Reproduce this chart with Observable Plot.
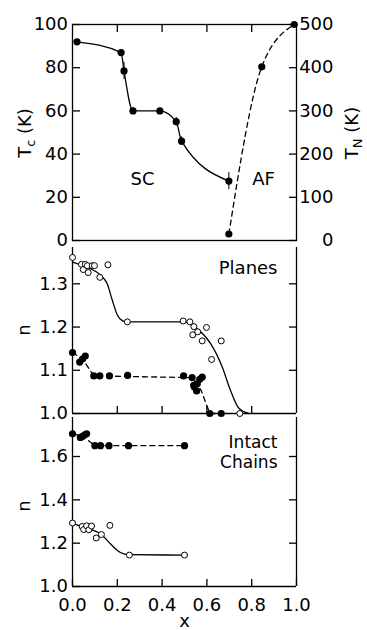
<!DOCTYPE html>
<html><head><meta charset="utf-8">
<script src="https://cdn.jsdelivr.net/npm/d3@7"></script>
<script src="https://cdn.jsdelivr.net/npm/@observablehq/plot@0.6"></script>
<style>
body{margin:0;background:#fff}
#chart{position:relative;width:367px;height:630px;overflow:hidden;background:#fff}
#chart svg{position:absolute;left:0}
</style>
</head><body><div id="chart"></div>
<script>
// ---------- data: top panel (Tc, left axis; TN, right axis) ----------
const tcX   = [0.02, 0.217, 0.23, 0.27, 0.39, 0.463, 0.487, 0.698];
const tcVal = [92, 87, 78.5, 60, 60, 55, 46, 27.5];
const tcErr = [0, 0, 4, 1.5, 0, 2, 2, 4];
const tnX   = [0.698, 0.845, 0.99];
const tnVal = [15, 402, 500];
const tcTicks = [0, 20, 40, 60, 80, 100];
const tnTickFactor = 5; // right axis: 0..500 K

// ---------- data: middle panel "Planes" ----------
const planesOpenX = [0, 0.040, 0.048, 0.057, 0.066, 0.070, 0.088, 0.098, 0.122, 0.158, 0.245, 0.494, 0.524, 0.537, 0.542, 0.559, 0.579, 0.598, 0.621, 0.664, 0.747];
const planesOpenN = [1.361, 1.345, 1.333, 1.345, 1.342, 1.326, 1.342, 1.342, 1.315, 1.344, 1.212, 1.214, 1.212, 1.182, 1.201, 1.189, 1.168, 1.199, 1.125, 1.168, 1.0];
const planesFitX  = [0, 0.065, 0.125, 0.155, 0.177, 0.200, 0.222, 0.245, 0.494, 0.557, 0.616, 0.668, 0.705, 0.743, 0.787];
const planesFitN  = [1.350, 1.338, 1.320, 1.300, 1.263, 1.228, 1.215, 1.212, 1.212, 1.196, 1.162, 1.108, 1.054, 1.012, 1.0];
const planesFilledX = [0, 0.032, 0.045, 0.057, 0.095, 0.122, 0.165, 0.246, 0.496, 0.534, 0.541, 0.545, 0.554, 0.557, 0.568, 0.579, 0.613, 0.664];
const planesFilledN = [1.141, 1.119, 1.126, 1.133, 1.087, 1.087, 1.087, 1.088, 1.087, 1.083, 1.065, 1.061, 1.052, 1.069, 1.079, 1.084, 1.0, 1.0];
const planesGuideX = [0, 0.045, 0.095, 0.534, 0.574, 0.613, 0.664];
const planesGuideN = [1.141, 1.126, 1.087, 1.083, 1.054, 1.0, 1.0];
const planesTicks = [1.0, 1.1, 1.2, 1.3];

// ---------- data: bottom panel "Intact Chains" ----------
const chainsFilledX = [0, 0.035, 0.045, 0.055, 0.063, 0.100, 0.125, 0.163, 0.250, 0.500];
const chainsFilledN = [1.705, 1.688, 1.693, 1.700, 1.705, 1.65, 1.65, 1.65, 1.65, 1.65];
const chainsGuideX = [0, 0.045, 0.100, 0.500];
const chainsGuideN = [1.705, 1.695, 1.65, 1.65];
const chainsOpenX = [0, 0.043, 0.050, 0.063, 0.073, 0.085, 0.106, 0.129, 0.167, 0.254, 0.500];
const chainsOpenN = [1.293, 1.277, 1.263, 1.280, 1.262, 1.279, 1.224, 1.240, 1.282, 1.145, 1.145];
const chainsFitX = [0, 0.050, 0.129, 0.170, 0.214, 0.250, 0.500];
const chainsFitN = [1.293, 1.272, 1.240, 1.196, 1.157, 1.147, 1.145];
const chainsTicks = [1.0, 1.2, 1.4, 1.6];

const xTicks = [0, 0.2, 0.4, 0.6, 0.8, 1.0];
const xInner = [0.2, 0.4, 0.6, 0.8];

// ---------- helpers ----------
const zip = (xs, ys) => xs.map((x, i) => ({x, y: ys[i]}));
const font = "DejaVu Sans, sans-serif";
const style = {fontFamily: font, fontSize: "18px", color: "black", background: "transparent", overflow: "visible"};
const chart = document.getElementById("chart");
function place(svg, top) { svg.style.top = top + "px"; chart.appendChild(svg); return svg; }
const LW = 1.3;

// ---------- top panel ----------
const tcData = tcX.map((x, i) => ({x, y: tcVal[i], e: tcErr[i]}));
const tnData = tnX.map((x, i) => ({x, y: tnVal[i] / tnTickFactor}));
const topSvg = place(Plot.plot({
  width: 367, height: 242, marginLeft: 72, marginRight: 71, marginTop: 24, marginBottom: 2,
  x: {domain: [0, 1]}, y: {domain: [0, 100]}, style,
  marks: [
    Plot.frame({stroke: "black", strokeWidth: LW}),
    Plot.axisY({anchor: "left", ticks: tcTicks, tickSize: -8, tickPadding: 12.5, label: null, strokeWidth: LW}),
    Plot.axisY({anchor: "right", ticks: tcTicks, tickSize: -8, tickPadding: 45, textAnchor: "end",
      tickFormat: d => String(d * tnTickFactor), label: null, strokeWidth: LW}),
    Plot.axisX({anchor: "top", ticks: xInner, tickSize: -7, tickFormat: () => "", label: null, strokeWidth: LW}),
    Plot.ruleX(tcData.filter(d => d.e > 0), {x: "x", y1: d => d.y - d.e, y2: d => d.y + d.e, strokeWidth: 1}),
    Plot.line(tcData, {x: "x", y: "y", curve: "monotone-x", strokeWidth: LW}),
    Plot.line(tnData, {x: "x", y: "y", curve: "monotone-x", strokeWidth: LW, strokeDasharray: "5,4"}),
    Plot.dot(tcData, {x: "x", y: "y", r: 3.6, fill: "black"}),
    Plot.dot(tnData, {x: "x", y: "y", r: 3.6, fill: "black"}),
    Plot.text(["SC"], {text: d => d, frameAnchor: "bottom-left", dx: 70, dy: -61, textAnchor: "middle", lineAnchor: "middle"}),
    Plot.text(["AF"], {text: d => d, frameAnchor: "bottom-left", dx: 191, dy: -61, textAnchor: "middle", lineAnchor: "middle"})
  ]
}), 0);

// ---------- middle panel ----------
const midSvg = place(Plot.plot({
  width: 367, height: 175, marginLeft: 72, marginRight: 71, marginTop: 7, marginBottom: 2,
  x: {domain: [0, 1]}, y: {domain: [1, 1.384]}, style,
  marks: [
    Plot.ruleX([0, 1], {strokeWidth: LW}),
    Plot.ruleY([1], {strokeWidth: LW}),
    Plot.axisY({anchor: "left", ticks: planesTicks, tickFormat: ".1f", tickSize: -8, tickPadding: 12.5, label: null, strokeWidth: LW}),
    Plot.axisY({anchor: "right", ticks: planesTicks.slice(1), tickFormat: () => "", tickSize: -8, label: null, strokeWidth: LW}),
    Plot.axisX({anchor: "bottom", ticks: xInner, tickFormat: () => "", tickSize: -7, label: null, strokeWidth: LW}),
    Plot.line(zip(planesFitX, planesFitN), {x: "x", y: "y", curve: "monotone-x", strokeWidth: LW}),
    Plot.line(zip(planesGuideX, planesGuideN), {x: "x", y: "y", strokeWidth: LW, strokeDasharray: "5,4"}),
    Plot.dot(zip(planesFilledX, planesFilledN), {x: "x", y: "y", r: 3.6, fill: "black"}),
    Plot.dot(zip(planesOpenX, planesOpenN), {x: "x", y: "y", r: 3, fill: "white", stroke: "black", strokeWidth: 1}),
    Plot.text(["Planes"], {text: d => d, frameAnchor: "top-right", dx: -19, dy: 21, textAnchor: "end", lineAnchor: "middle"})
  ]
}), 240);

// ---------- bottom panel ----------
const botSvg = place(Plot.plot({
  width: 367, height: 217, marginLeft: 72, marginRight: 71, marginTop: 4, marginBottom: 44,
  x: {domain: [0, 1]}, y: {domain: [1, 1.78]}, style,
  marks: [
    Plot.ruleX([0, 1], {strokeWidth: LW}),
    Plot.ruleY([1], {strokeWidth: LW}),
    Plot.axisY({anchor: "left", ticks: chainsTicks, tickFormat: ".1f", tickSize: -8, tickPadding: 12.5, label: null, strokeWidth: LW}),
    Plot.axisY({anchor: "right", ticks: chainsTicks.slice(1), tickFormat: () => "", tickSize: -8, label: null, strokeWidth: LW}),
    Plot.axisX({anchor: "bottom", ticks: xTicks, tickFormat: ".1f", tickSize: -7, tickPadding: 19, label: null, strokeWidth: LW}),
    Plot.line(zip(chainsFitX, chainsFitN), {x: "x", y: "y", curve: "monotone-x", strokeWidth: LW}),
    Plot.line(zip(chainsGuideX, chainsGuideN), {x: "x", y: "y", strokeWidth: LW, strokeDasharray: "5,4"}),
    Plot.dot(zip(chainsFilledX, chainsFilledN), {x: "x", y: "y", r: 3.6, fill: "black"}),
    Plot.dot(zip(chainsOpenX, chainsOpenN), {x: "x", y: "y", r: 3, fill: "white", stroke: "black", strokeWidth: 1}),
    Plot.text(["Intact\nChains"], {text: d => d, frameAnchor: "top-right", dx: -19, dy: 16, textAnchor: "end", lineAnchor: "top", lineHeight: 1.18, fontSize: 17}),
    Plot.text(["x"], {text: d => d, frameAnchor: "bottom", dy: 40, textAnchor: "middle", lineAnchor: "bottom"})
  ]
}), 413);

// ---------- rotated axis titles (with subscripts) ----------
function title(svg, cx, cy, main, sub, rest) {
  const t = d3.select(svg).append("text")
    .attr("transform", `translate(${cx},${cy}) rotate(-90)`)
    .attr("text-anchor", "middle").attr("dy", "0.35em")
    .attr("font-family", font).attr("font-size", 18).attr("fill", "black");
  t.append("tspan").text(main);
  if (sub) {
    t.append("tspan").attr("font-size", 13).attr("dy", 4).text(sub);
    t.append("tspan").attr("dy", -4).text(rest);
  }
}
title(topSvg, 25, 133, "T", "c", " (K)");
title(topSvg, 352, 133, "T", "N", " (K)");
title(midSvg, 24, 90, "n");
title(botSvg, 24, 93, "n");
</script>
</body></html>
